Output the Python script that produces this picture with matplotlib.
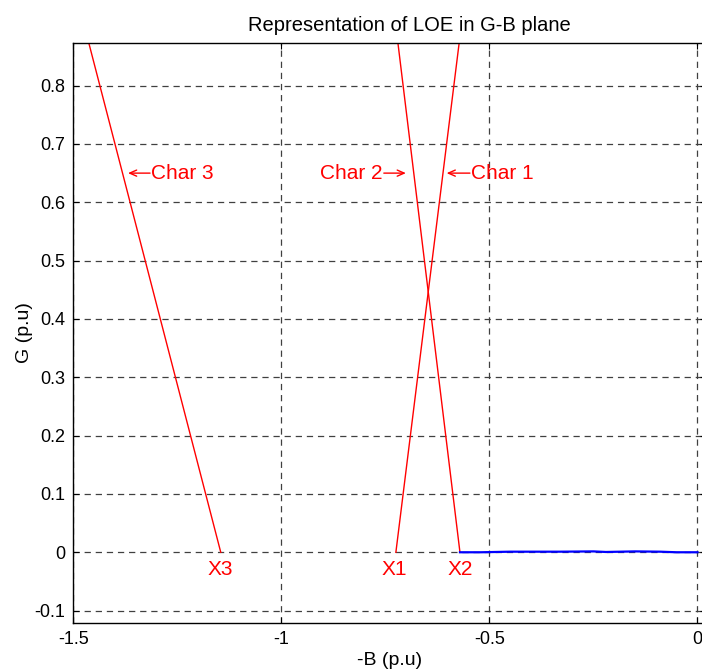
import matplotlib
matplotlib.use("Agg")
import matplotlib.pyplot as plt
import numpy as np

plt.rcParams['font.family'] = ['Liberation Sans', 'DejaVu Sans']
plt.rcParams['lines.scale_dashes'] = False

# Characteristic lines in the G-B plane: (-B, G) end points
char1_b = [-0.725, -0.573]
char1_g = [0.0, 0.8726]
char2_b = [-0.571, -0.720]
char2_g = [0.0, 0.8726]
char3_b = [-1.146, -1.463]
char3_g = [0.0, 0.8726]

# Trajectory along the B axis
traj_b = [-0.571, -0.52, -0.45, -0.40, -0.33, -0.25, -0.22, -0.15, -0.09, -0.05, 0.0]
traj_g = [0.0, 0.0, 0.001, 0.001, 0.001, 0.0015, 0.0005, 0.0015, 0.001, 0.0, 0.0]

x_ticks = [-1.5, -1.0, -0.5, 0.0]
x_tick_labels = ['-1.5', '-1', '-0.5', '0']
y_ticks = [-0.1, 0.0, 0.1, 0.2, 0.3, 0.4, 0.5, 0.6, 0.7, 0.8]
y_tick_labels = ['-0.1', '0', '0.1', '0.2', '0.3', '0.4', '0.5', '0.6', '0.7', '0.8']

fig = plt.figure(figsize=(7.02, 6.72), dpi=100)
ax = fig.add_axes([0.1047, 0.0734, 0.9007, 0.8622])

red = '#ff0000'
ax.plot(char1_b, char1_g, color=red, lw=1.0)
ax.plot(char2_b, char2_g, color=red, lw=1.0)
ax.plot(char3_b, char3_g, color=red, lw=1.0)
ax.plot(traj_b, traj_g, color='#0000ff', lw=1.6)

ax.set_xlim(-1.5, 0.02)
ax.set_ylim(-0.1207, 0.8726)
ax.set_xticks(x_ticks)
ax.set_xticklabels(x_tick_labels)
ax.set_yticks(y_ticks)
ax.set_yticklabels(y_tick_labels)

ax.grid(True, color='#404040', lw=0.9, linestyle=(0, (4.5, 3.5)))
ax.tick_params(direction='in', length=4, width=0.8, labelsize=13,
               top=True, right=True, pad=6)
for s in ax.spines.values():
    s.set_linewidth(1.0)

ax.set_title('Representation of LOE in G-B plane', fontsize=14.5, pad=9, x=0.5306)
ax.set_xlabel('-B (p.u)', fontsize=14, labelpad=3)
ax.set_ylabel('G (p.u)', fontsize=14, labelpad=1)

fs = 15
arrow = dict(arrowstyle='->,head_length=0.5,head_width=0.22', color=red, lw=1.0,
             shrinkA=0, shrinkB=0)

# Char 3
ax.annotate('', xy=(-1.369, 0.65), xytext=(-1.316, 0.65), arrowprops=arrow)
ax.text(-1.313, 0.65, 'Char 3', color=red, fontsize=fs, ha='left', va='center')
# Char 2
ax.annotate('', xy=(-0.701, 0.65), xytext=(-0.754, 0.65), arrowprops=arrow)
ax.text(-0.757, 0.65, 'Char 2', color=red, fontsize=fs, ha='right', va='center')
# Char 1
ax.annotate('', xy=(-0.603, 0.65), xytext=(-0.547, 0.65), arrowprops=arrow)
ax.text(-0.544, 0.65, 'Char 1', color=red, fontsize=fs, ha='left', va='center')

# End point labels
ax.text(-1.146, -0.03, 'X3', color=red, fontsize=fs, ha='center', va='center')
ax.text(-0.730, -0.03, 'X1', color=red, fontsize=fs, ha='center', va='center')
ax.text(-0.571, -0.03, 'X2', color=red, fontsize=fs, ha='center', va='center')

fig.savefig('out.png', dpi=100)
